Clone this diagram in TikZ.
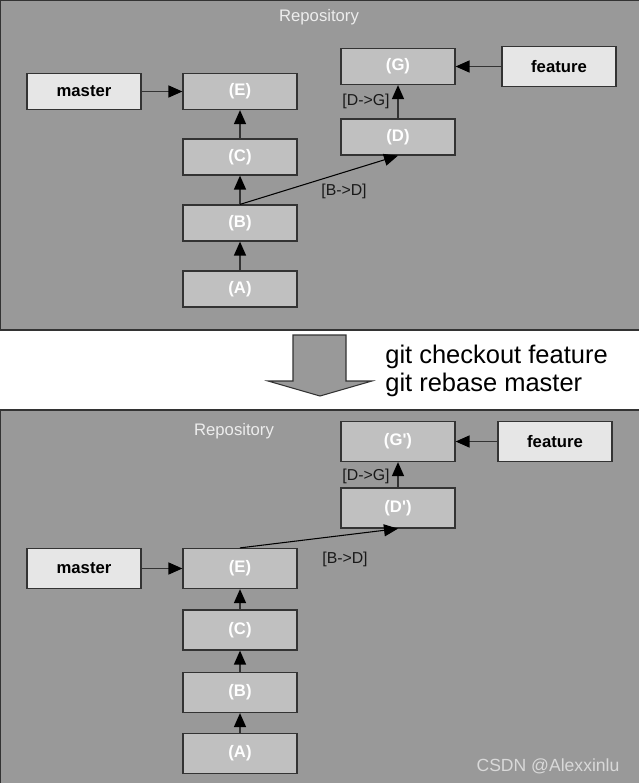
\documentclass[tikz,border=0pt]{standalone}
\usepackage{fontspec}
\setmainfont{Liberation Sans}
\usepackage{tikz}
\usetikzlibrary{positioning,arrows.meta}
\usepackage{xcolor}
\definecolor{panelgray}{HTML}{999999}
\definecolor{commitfill}{HTML}{C0C0C0}
\definecolor{branchfill}{HTML}{E6E6E6}
\definecolor{edgegray}{HTML}{333333}

\tikzset{
  commit/.style={draw=edgegray, line width=0.7pt, fill=commitfill, minimum width=22.8mm, minimum height=7.2mm, inner sep=0pt, text=white, font=\fontsize{9.5}{11}\selectfont\bfseries},
  branch/.style={commit, fill=branchfill, text=black, font=\fontsize{9.5}{11}\selectfont\bfseries},
  link/.style={-{Triangle[length=2.8mm,width=2.4mm,color=black]}, draw=edgegray, line width=0.9pt},
  diff/.style={link, draw=black, line width=0.6pt},
  note/.style={text=black!90, inner sep=0pt, font=\fontsize{9}{10}\selectfont},
  repo/.style={text=white!93!black, inner sep=0pt, font=\fontsize{9.5}{11}\selectfont},
  cmd/.style={text=black, inner sep=0pt, align=left, font=\fontsize{14.5}{16}\selectfont},
  wmark/.style={text=white!85!black, inner sep=0pt, font=\fontsize{10}{11}\selectfont}
}

\begin{document}
\begin{tikzpicture}[x=0.2mm, y=-0.2mm]
\fill[white] (0,0) rectangle (638,783);
\useasboundingbox (0,0) rectangle (638,783);

% Before rebase
\draw[draw=edgegray, line width=0.8pt, fill=panelgray] (0,0) rectangle (642,330);
\node[repo] (repo1) at (319,17) {Repository};
\node[branch] (master1) at (84,91.5) {master};
\node[commit] (E1) at (240,91.5) {(E)};
\node[commit] (C1) at (240,157) {(C)};
\node[commit] (B1) at (240,223) {(B)};
\node[commit] (A1) at (240,289) {(A)};
\node[commit] (G1) at (398,66.5) {(G)};
\node[commit] (D1) at (398,137) {(D)};
\node[branch, minimum height=8mm] (feature1) at (559,66.5) {feature};
\node[note] (dg1) at (366,101) {[D->G]};
\node[note] (bd1) at (344,191) {[B->D]};

\draw[link] (master1) -- (E1);
\draw[link] (A1) -- (B1);
\draw[link] (B1) -- (C1);
\draw[link] (C1) -- (E1);
\draw[diff] (B1.north) -- (D1.south);
\draw[link] (D1) -- (G1);
\draw[link] (feature1) -- (G1);

% Command
\draw[draw=edgegray, line width=0.6pt, fill=panelgray] (293,335) -- (346,335) -- (346,381) -- (372,381) -- (320,396) -- (268,381) -- (293,381) -- cycle;
\node[cmd, anchor=west] (cmds) at (385,371) {git checkout feature\\git rebase master};

% After rebase
\begin{scope}[commit/.append style={minimum height=8mm}]
\draw[draw=edgegray, line width=0.8pt, fill=panelgray] (0,410) rectangle (642,787);
\node[repo] (repo2) at (234,431) {Repository};
\node[commit] (G2) at (398,441.5) {(G\textquotesingle)};
\node[branch] (feature2) at (555,441.5) {feature};
\node[commit] (D2) at (398,508) {(D\textquotesingle)};
\node[branch] (master2) at (84,568.5) {master};
\node[commit] (E2) at (240,568.5) {(E)};
\node[commit] (C2) at (240,630) {(C)};
\node[commit] (B2) at (240,692.5) {(B)};
\node[commit] (A2) at (240,753.5) {(A)};
\node[note] (dg2) at (366,476) {[D->G]};
\node[note] (bd2) at (345,559) {[B->D]};

\draw[link] (master2) -- (E2);
\draw[link] (A2) -- (B2);
\draw[link] (B2) -- (C2);
\draw[link] (C2) -- (E2);
\draw[diff] (E2.north) -- (D2.south);
\draw[link] (D2) -- (G2);
\draw[link] (feature2) -- (G2);
\end{scope}

\node[wmark] (csdn) at (548,766) {CSDN @Alexxinlu};
\end{tikzpicture}
\end{document}
